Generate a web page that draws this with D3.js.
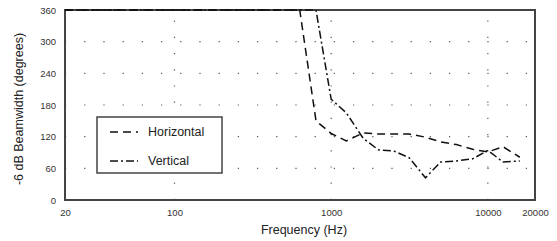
<!DOCTYPE html>
<html><head><meta charset="utf-8">
<script src="https://cdn.jsdelivr.net/npm/d3@7"></script>
<style>body{margin:0;background:#fff}svg{display:block;font-family:"Liberation Sans",Arial,sans-serif}</style>
</head><body>
<svg id="c" width="557" height="241"></svg>
<script>
const frequencies = [20, 25, 31.5, 40, 50, 63, 80, 100, 125, 160, 200, 250, 315, 400, 500, 630, 800, 1000, 1250, 1600, 2000, 2500, 3150, 4000, 5000, 6300, 8000, 10000, 12500, 16000];
const horizontal = [360, 360, 360, 360, 360, 360, 360, 360, 360, 360, 360, 360, 360, 360, 360, 360, 150, 126, 112, 127, 125, 125, 125, 119, 110, 105, 96, 91, 101, 81];
const vertical   = [360, 360, 360, 360, 360, 360, 360, 360, 360, 360, 360, 360, 360, 360, 360, 360, 360, 191, 165, 117, 95, 93, 80, 42, 72, 74, 78, 94, 72, 74];
const yTicks = [0, 60, 120, 180, 240, 300, 360];
const xTicks = [20, 100, 1000, 10000, 20000];
const xGrid = [100, 1000, 10000];
const seriesNames = ["Horizontal", "Vertical"];

const svg = d3.select("#c");
const x = d3.scaleLog().domain([20, 20000]).range([65, 535]);
const y = d3.scaleLinear().domain([0, 360]).range([200, 10]);

// grid
svg.append("g").selectAll("line").data(yTicks.filter(d => d > 0 && d < 360)).join("line")
  .attr("x1", x(20)).attr("x2", x(20000)).attr("y1", d => y(d)).attr("y2", d => y(d))
  .attr("stroke", "#555").attr("stroke-width", 1.2).attr("stroke-dasharray", "1.2,18");
svg.append("g").selectAll("line").data(xGrid).join("line")
  .attr("x1", d => x(d)).attr("x2", d => x(d)).attr("y1", y(0)).attr("y2", y(360))
  .attr("stroke", "#555").attr("stroke-width", 1.2).attr("stroke-dasharray", "1.2,15");

// axes labels
const yAxis = d3.axisLeft(y).tickValues(yTicks).tickSize(0).tickPadding(9);
const gy = svg.append("g").attr("transform", `translate(${x(20)},0)`).call(yAxis);
gy.select(".domain").remove();
gy.selectAll("text").attr("font-size", 9.5).attr("fill", "#333").attr("font-family", "Liberation Sans, Arial, sans-serif");

const xAxis = d3.axisBottom(x).tickValues(xTicks).tickFormat(d3.format("d")).tickSize(0).tickPadding(9);
const gx = svg.append("g").attr("transform", `translate(0,${y(0)})`).call(xAxis);
gx.select(".domain").remove();
gx.selectAll("text").attr("font-size", 9.5).attr("fill", "#333").attr("font-family", "Liberation Sans, Arial, sans-serif");

// frame
svg.append("rect").attr("x", x(20)).attr("y", y(360)).attr("width", x(20000) - x(20)).attr("height", y(0) - y(360))
  .attr("fill", "none").attr("stroke", "#444").attr("stroke-width", 2);

// lines
const line = d3.line().x((d, i) => x(frequencies[i])).y(d => y(d));
const styles = [{dash: "8,5", data: horizontal}, {dash: "8,3,2,3", data: vertical}];
styles.forEach(s => {
  svg.append("path").datum(s.data).attr("d", line).attr("fill", "none")
    .attr("stroke", "#111").attr("stroke-width", 1.5).attr("stroke-dasharray", s.dash);
});

// legend
const lg = svg.append("g");
lg.append("rect").attr("x", 97).attr("y", 117).attr("width", 125).attr("height", 56)
  .attr("fill", "#fff").attr("stroke", "#444").attr("stroke-width", 1.5);
seriesNames.forEach((n, i) => {
  const yy = 132 + i * 29;
  lg.append("line").attr("x1", 110).attr("x2", 138).attr("y1", yy).attr("y2", yy)
    .attr("stroke", "#111").attr("stroke-width", 1.5).attr("stroke-dasharray", styles[i].dash);
  lg.append("text").attr("x", 148).attr("y", yy).attr("dy", "0.35em").attr("font-size", 12.5)
    .attr("fill", "#222").text(n);
});

// titles
svg.append("text").attr("x", 304).attr("y", 234).attr("text-anchor", "middle").attr("font-size", 12.5)
  .attr("fill", "#222").text("Frequency (Hz)");
svg.append("text").attr("transform", "translate(23,109) rotate(-90)").attr("text-anchor", "middle")
  .attr("font-size", 12.5).attr("fill", "#222").text("-6 dB Beamwidth (degrees)");
</script>
</body></html>
